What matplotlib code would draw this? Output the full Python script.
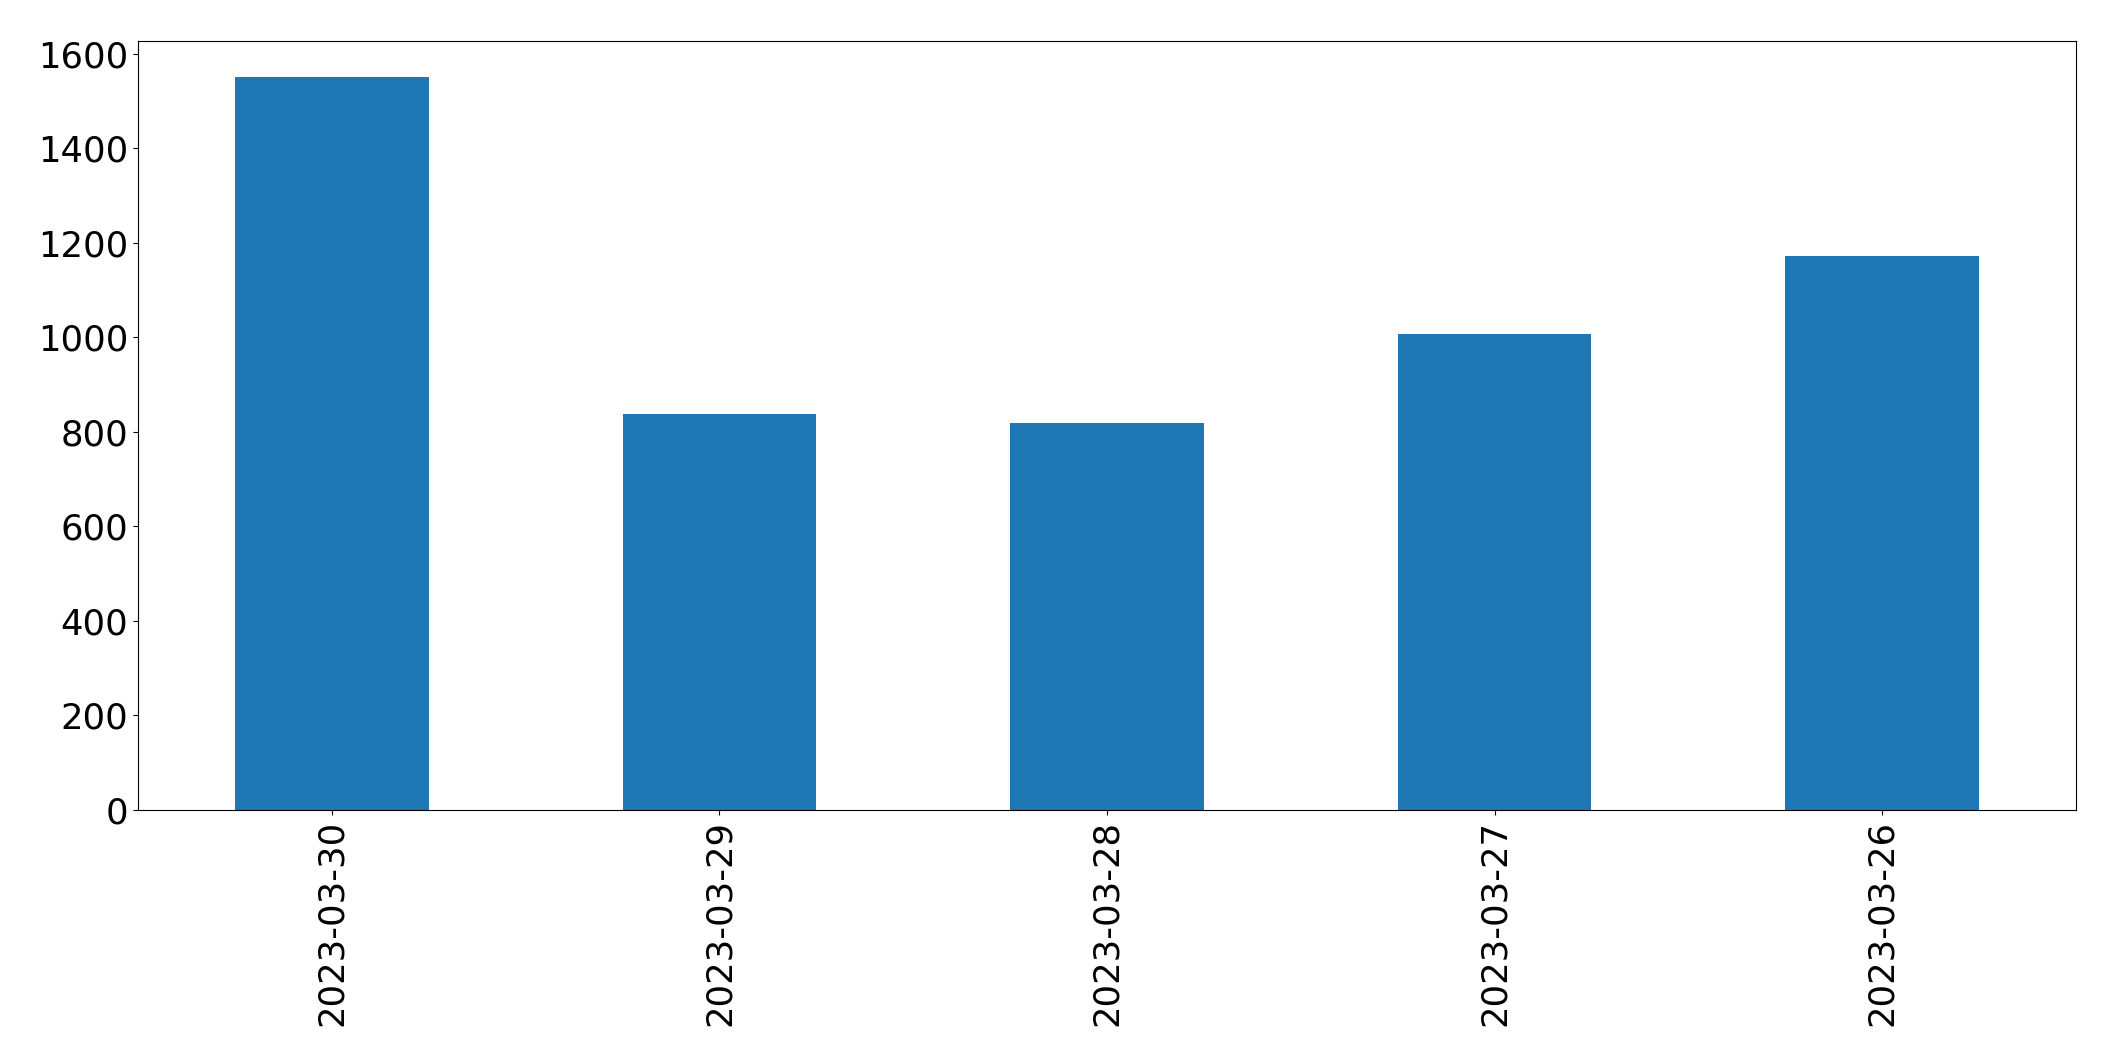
import matplotlib
matplotlib.use("Agg")
import matplotlib.pyplot as plt
import numpy as np

dates = ["2023-03-30", "2023-03-29", "2023-03-28", "2023-03-27", "2023-03-26"]
counts = [1550, 837, 818, 1008, 1173]

fig = plt.figure(figsize=(21.15, 10.62), dpi=100)
ax = fig.add_axes([0.0653, 0.2373, 0.9162, 0.7244])

x = np.arange(len(dates))
ax.bar(x, counts, width=0.5, color="#1f77b4")
ax.set_xlim(-0.5, len(dates) - 0.5)
ax.set_xticks(x)
ax.set_xticklabels(dates, rotation=90)
ax.set_yticks(range(0, 1601, 200))
ax.tick_params(axis="both", labelsize=25.5)

fig.savefig("out.png", dpi=100)
